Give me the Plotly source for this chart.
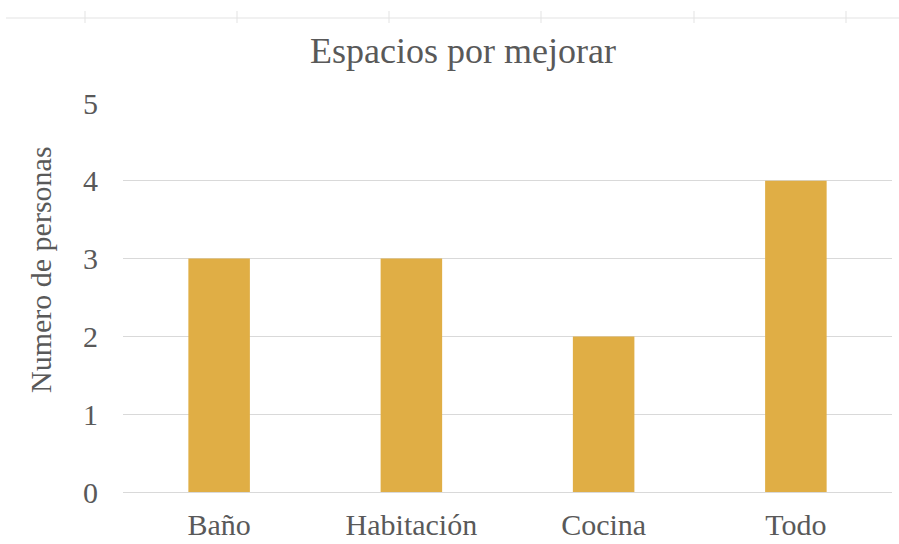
import plotly.graph_objects as go

categories = ["Baño", "Habitación", "Cocina", "Todo"]
values = [3, 3, 2, 4]
title_text = "Espacios por mejorar"
y_title = "Numero de personas"
y_ticks = [0, 1, 2, 3, 4, 5]

bar_color = "#E0AE45"
text_color = "#595959"
grid_color = "#D9D9D9"
font_family = "Liberation Serif, Times New Roman, serif"

W, H = 899, 544
L, R, T, B = 123, 7, 103, 52
pw, ph = W - L - R, H - T - B


def px_x(x):
    return (x - L) / pw


def px_y(y):
    return (H - B - y) / ph


fig = go.Figure(
    go.Bar(x=categories, y=values, marker=dict(color=bar_color, line=dict(width=0)))
)

fig.update_layout(
    width=W, height=H,
    margin=dict(l=L, r=R, t=T, b=B),
    paper_bgcolor="white", plot_bgcolor="white",
    bargap=0.68,
    showlegend=False,
    font=dict(family=font_family, color=text_color, size=30),
    title=dict(text=title_text, x=463 / W, xanchor="center", y=0.907, yanchor="middle",
               font=dict(size=36, color=text_color, family=font_family)),
    xaxis=dict(showgrid=False, showline=True, linecolor=grid_color, linewidth=1,
               ticks="", tickfont=dict(size=30), ticklabelstandoff=6, automargin=False),
    yaxis=dict(range=[0, 5], tickvals=y_ticks, showgrid=True, gridcolor=grid_color,
               gridwidth=1, zeroline=False, showline=False, ticks="",
               ticklabelstandoff=24, tickfont=dict(size=30),
               automargin=False),
)

fig.add_annotation(text=y_title, xref="paper", yref="paper",
                   x=px_x(40), y=px_y(270), xanchor="center", yanchor="middle",
                   textangle=-90, showarrow=False,
                   font=dict(size=30, color=text_color, family=font_family))

# faint decorative axis remnant at the very top of the reference image
shapes = [dict(type="line", xref="paper", yref="paper",
               x0=px_x(6), x1=px_x(W), y0=px_y(18), y1=px_y(18),
               line=dict(color="#E3E3E3", width=1))]
for tx in [85, 237, 389, 541, 694, 846]:
    shapes.append(dict(type="line", xref="paper", yref="paper",
                       x0=px_x(tx), x1=px_x(tx), y0=px_y(11), y1=px_y(23),
                       line=dict(color="#E3E3E3", width=1)))
fig.update_layout(shapes=shapes)

fig.write_html("out.html")
